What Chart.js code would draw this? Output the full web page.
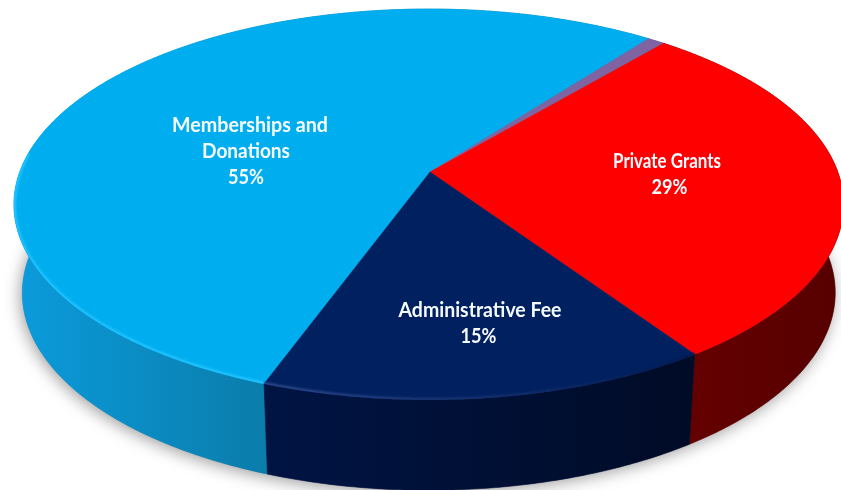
<!DOCTYPE html>
<html><head><meta charset="utf-8">
<style>html,body{margin:0;padding:0;background:#fff}canvas{display:block;filter:blur(0.35px)}</style>
<script src="https://cdn.jsdelivr.net/npm/chart.js@4"></script>
</head><body>
<canvas id="c" width="841" height="490"></canvas>
<script>
const categories = ['Memberships and Donations', 'Other', 'Private Grants', 'Administrative Fee'];
const shares = [54.8, 0.8, 29.4, 15.0];
const topColors = ['#00aeef', '#8064a2', '#ff0000', '#002060'];
const rimColors = ['#22c4ff', '#8064a2', '#a80000', '#2f4a8c'];
const rimFade = ['#22c4ff', '#8064a2', '#a80000', '#001a50'];
const sideLeft = ['#0b9bdc', '#5d4a78', '#640000', '#001444'];
const sideRight = ['#0a7dab', '#5d4a78', '#560000', '#000b26'];
const labelLines = [['Memberships and', 'Donations'], [], ['Private Grants'], ['Administrative Fee']];
const labelWidths = [[156, 88], [], [108], [163]];
const labelAnchors = [[246, 126], null, [667, 162], [480, 311]];
const lineShifts = [[4, 0, 0], [], [0, 2.5], [0, -1.5]];

const view = {cx: 430, cy: 172, R: 409, B: 190, k: 0.166, m: -0.003, T: 0, depth: 88, taper: 0.98};
function project(a) {
  const u = Math.cos(a), v = Math.sin(a), w = 1 / (1 - view.k * v - view.m * u);
  return {x: view.cx + view.R * u * w, y: view.cy + (view.B * v + view.T * u) * w, w};
}
function lower(p) {
  return {x: view.cx + (p.x - view.cx) * view.taper, y: p.y + view.depth * Math.pow(p.w, 0.15)};
}
function samples(a0, a1) {
  const n = Math.max(2, Math.ceil(Math.abs(a1 - a0) / 0.01)), out = [];
  for (let i = 0; i <= n; i++) out.push(project(a0 + (a1 - a0) * i / n));
  return out;
}
const pie3d = {
  id: 'pie3d',
  beforeDatasetDraw(chart) {
    const ctx = chart.ctx, arcs = chart.getDatasetMeta(0).data;
    const geo = arcs.map(e => samples(e.startAngle, e.endAngle));
    // ground shadow
    ctx.save();
    ctx.shadowColor = 'rgba(0,0,0,0.38)'; ctx.shadowBlur = 16; ctx.shadowOffsetY = 3; ctx.shadowOffsetX = -2;
    ctx.fillStyle = '#888';
    ctx.beginPath();
    geo.flat().map(lower).forEach((p, i) => i ? ctx.lineTo(p.x, p.y) : ctx.moveTo(p.x, p.y));
    ctx.closePath(); ctx.fill();
    ctx.restore();
    // side wall
    geo.forEach((pts, i) => {
      const low = pts.map(lower).reverse(), xs = pts.map(p => p.x);
      const vis = pts.filter(p => p.y > view.cy + 30).map(p => p.x);
      const g = ctx.createLinearGradient(Math.min(...(vis.length ? vis : xs)), 0, Math.max(...(vis.length ? vis : xs)), 0);
      g.addColorStop(0, sideLeft[i]); g.addColorStop(1, sideRight[i]);
      ctx.fillStyle = g; ctx.strokeStyle = g; ctx.lineWidth = 0.6;
      ctx.beginPath();
      pts.concat(low).forEach((p, j) => j ? ctx.lineTo(p.x, p.y) : ctx.moveTo(p.x, p.y));
      ctx.closePath(); ctx.fill(); ctx.stroke();
    });
    // top face
    geo.forEach((pts, i) => {
      ctx.fillStyle = topColors[i]; ctx.strokeStyle = topColors[i]; ctx.lineWidth = 0.5;
      ctx.beginPath(); ctx.moveTo(view.cx, view.cy);
      pts.forEach(p => ctx.lineTo(p.x, p.y));
      ctx.closePath(); ctx.fill(); ctx.stroke();
    });
    // bevel on the near rim
    ctx.save();
    ctx.beginPath();
    geo.flat().forEach((p, i) => i ? ctx.lineTo(p.x, p.y) : ctx.moveTo(p.x, p.y));
    ctx.closePath(); ctx.clip();
    ctx.filter = 'blur(1px)';
    arcs.forEach((e, i) => {
      const full = Math.PI * 2;
      const s = ((e.startAngle % full) + full) % full;
      const a0 = Math.max(s, -0.1), a1 = Math.min(s + e.endAngle - e.startAngle, Math.PI + 0.1);
      if (a1 <= a0) return;
      const pts = samples(a0, a1);
      const g = ctx.createLinearGradient(pts[pts.length - 1].x, 0, pts[0].x, 0);
      g.addColorStop(0, rimColors[i]); g.addColorStop(1, rimFade[i]);
      ctx.strokeStyle = g; ctx.lineWidth = 4;
      ctx.beginPath();
      pts.forEach((p, j) => j ? ctx.lineTo(p.x, p.y) : ctx.moveTo(p.x, p.y));
      ctx.stroke();
    });
    ctx.restore();
    // labels
    ctx.fillStyle = '#f6fbff'; ctx.font = 'bold 20px Lato'; ctx.textAlign = 'center'; ctx.textBaseline = 'middle';
    labelLines.forEach((lines, i) => {
      if (!labelAnchors[i]) return;
      const text = lines.concat(Math.round(shares[i]) + '%');
      text.forEach((t, j) => ctx.fillText(t, labelAnchors[i][0] + lineShifts[i][j], labelAnchors[i][1] + j * 25.7, labelWidths[i][j] || 36));
    });
    return false;
  }
};
new Chart(document.getElementById('c'), {
  type: 'pie',
  data: {labels: categories, datasets: [{data: shares, backgroundColor: topColors, borderWidth: 0}]},
  options: {responsive: false, animation: false, rotation: 200,
    plugins: {legend: {display: false}, tooltip: {enabled: false}}},
  plugins: [pie3d]
});
</script>
</body></html>
